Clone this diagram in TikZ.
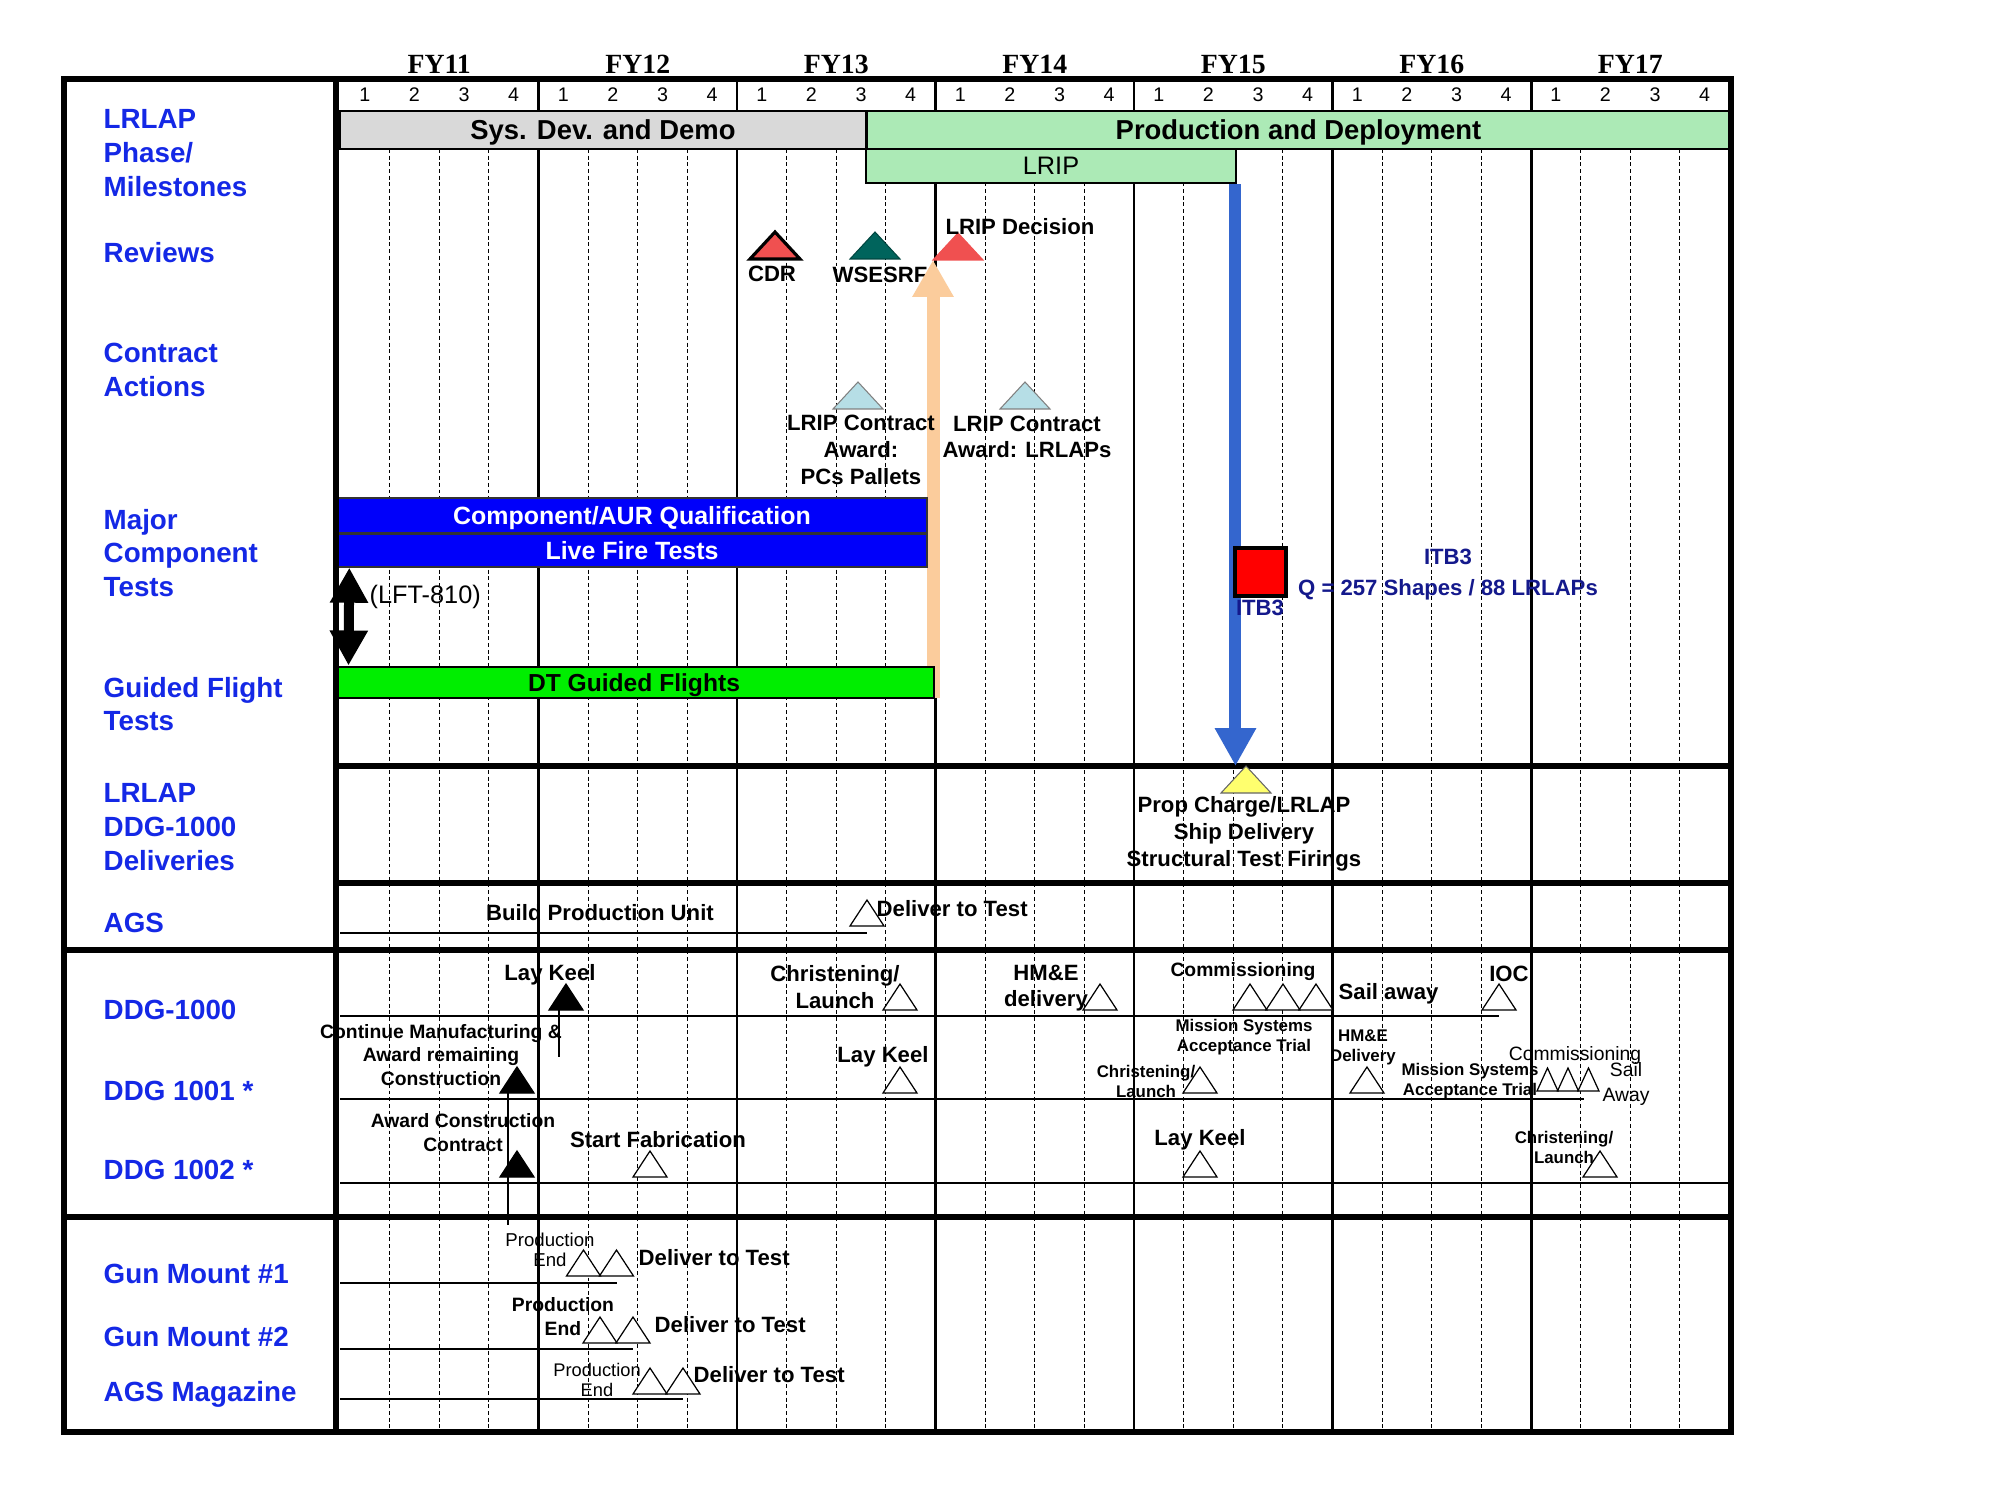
\documentclass[tikz,border=0pt]{standalone}
\usepackage{fontspec}
\setmainfont{Liberation Sans}
\newfontfamily\fyfont{Liberation Serif}
\usepackage{tikz}
\usetikzlibrary{arrows.meta, positioning, calc, fit}

\definecolor{labblue}{RGB}{20,40,230}
\definecolor{itbnavy}{RGB}{20,25,140}
\definecolor{phasegray}{RGB}{217,217,217}
\definecolor{phasegreen}{RGB}{172,234,182}
\definecolor{testblue}{RGB}{0,0,250}
\definecolor{dtgreen}{RGB}{0,238,0}
\definecolor{peach}{RGB}{251,204,156}
\definecolor{lripblue}{RGB}{52,102,206}
\definecolor{revred}{RGB}{240,80,80}
\definecolor{revteal}{RGB}{0,100,92}
\definecolor{cablue}{RGB}{182,222,230}
\definecolor{propyellow}{RGB}{255,255,110}
\definecolor{itbred}{RGB}{255,0,0}

\tikzset{
    rowlabel/.style={anchor=west, align=left, inner sep=0pt, text=labblue, font=\fontsize{7.9}{9.6}\selectfont\bfseries},
    fylabel/.style={inner sep=0pt, font=\fyfont\fontsize{7.9}{9}\selectfont\bfseries},
    qnum/.style={inner sep=0pt, font=\fontsize{5.6}{6}\selectfont},
    phasebar/.style={rectangle, inner sep=0pt, text depth=0pt, draw=black, line width=0.85pt, font=\fontsize{7.8}{9}\selectfont\bfseries},
    testbar/.style={rectangle, inner sep=0pt, text depth=0pt, draw=black!80, line width=0.4pt, fill=testblue, text=white, minimum width=59mm, font=\fontsize{7.1}{8}\selectfont\bfseries},
    dtbarstyle/.style={rectangle, inner sep=0pt, text depth=0pt, draw=black, line width=0.85pt, fill=dtgreen, font=\fontsize{7}{8}\selectfont\bfseries},
    mlabel/.style={align=center, inner sep=0pt, font=\fontsize{6.3}{7.6}\selectfont\bfseries},
    clabel/.style={align=center, inner sep=0pt, font=\fontsize{5.5}{6.8}\selectfont\bfseries},
    slabel/.style={align=center, inner sep=0pt, font=\fontsize{4.8}{5.7}\selectfont\bfseries},
    rlabel/.style={align=center, inner sep=0pt, font=\fontsize{5.5}{7.1}\selectfont},
    plabel/.style={align=center, inner sep=0pt, font=\fontsize{5.3}{5.7}\selectfont},
    yline/.style={line width=0.85pt},
    qline/.style={line width=0.3pt, dash pattern=on 1.1pt off 0.8pt},
    secline/.style={line width=1.7pt},
    rowline/.style={line width=0.85pt},
    thinline/.style={line width=0.35pt},
    frameline/.style={line width=1.8pt},
    hollow/.style={draw=black, line width=0.35pt, fill=white},
    solidstone/.style={draw=black, line width=0.35pt, fill=black},
    peacharrow/.style={draw=peach, line width=1.3mm, -{Triangle[width=3.9mm 0 0, length=3.7mm 0 0]}},
    lriparrow/.style={draw=lripblue, line width=1.2mm, -{Triangle[width=3.9mm 0 0, length=3.8mm 0 0]}},
    dblarrow/.style={draw=black, line width=1mm, {Triangle[width=3.6mm 0 0, length=3.5mm 0 0]}-{Triangle[width=3.6mm 0 0, length=3.5mm 0 0]}},
    mstone/.pic={\path[pic actions] (-17,0) -- (17,0) -- (0,-26) -- cycle; \coordinate (-base) at (0,0); \coordinate (-top) at (0,-26);},
    bigstone/.pic={\path[pic actions] (-25,0) -- (25,0) -- (0,-27) -- cycle; \coordinate (-base) at (0,0); \coordinate (-top) at (0,-27); \coordinate (-bl) at (-25,0);},
    tinystone/.pic={\path[pic actions] (-10.5,0) -- (10.5,0) -- (0,-23) -- cycle; \coordinate (-base) at (0,0);}
}

\begin{document}
\begin{tikzpicture}[x=0.1mm, y=-0.1mm]
    \path[use as bounding box, fill=white] (0,0) rectangle (2000,1500);

    % Grid
    \foreach \yr in {0,...,6}
        \foreach \q in {1,2,3}
            \draw[qline] ({340+(4*\yr+\q)*49.625},149) -- ({340+(4*\yr+\q)*49.625},1432);
    \foreach \yr in {1,...,6}
        \draw[yline] ({340+\yr*198.5},79) -- ({340+\yr*198.5},1432);

    % Years and quarters
    \foreach \yr/\fy in {0/11,1/12,2/13,3/14,4/15,5/16,6/17}{
        \node[fylabel] (fy\fy) at ({340+(\yr+0.5)*198.5},64) {FY\fy};
        \foreach \q in {1,...,4}
            \node[qnum] (q\fy\q) at ({340+(4*\yr+\q-0.5)*49.625},95) {\q};
    }

    % Phases
    \node[phasebar, fill=phasegray, minimum width=52.6mm, minimum height=3.8mm] (sysdev) at (603,130) {Sys. Dev. and Demo};
    \node[phasebar, fill=phasegreen, minimum width=86.5mm, minimum height=3.8mm] (proddep) at (1298.5,130) {Production and Deployment};
    \node[phasebar, fill=phasegreen, font=\fontsize{7.2}{8}\selectfont, minimum width=37mm, minimum height=3.4mm] (lrip) at (1051,166) {LRIP};

    % Rulings
    \draw[rowline] (336,111) -- (1731,111);
    \draw[rowline] (336,149) -- (1731,149);
    \draw[secline] (336,766) -- (1731,766);
    \draw[secline] (336,883) -- (1731,883);
    \draw[secline] (64,950) -- (1731,950);
    \draw[secline] (64,1217) -- (1731,1217);

    % Row labels
    \node[rowlabel] (lblphase) at (103,153) {LRLAP\\Phase/\\Milestones};
    \node[rowlabel] (lblreviews) at (103,253) {Reviews};
    \node[rowlabel] (lblcontract) at (103,370) {Contract\\Actions};
    \node[rowlabel] (lblmajor) at (103,553) {Major\\Component\\Tests};
    \node[rowlabel] (lblguided) at (103,704) {Guided Flight\\Tests};
    \node[rowlabel] (lbldeliv) at (103,827) {LRLAP\\DDG-1000\\Deliveries};
    \node[rowlabel] (lblags) at (103,923) {AGS};
    \node[rowlabel] (lblddga) at (103,1010) {DDG-1000};
    \node[rowlabel] (lblddgb) at (103,1091) {DDG 1001 *};
    \node[rowlabel] (lblddgc) at (103,1170) {DDG 1002 *};
    \node[rowlabel] (lblgma) at (103,1274) {Gun Mount \#1};
    \node[rowlabel] (lblgmb) at (103,1337) {Gun Mount \#2};
    \node[rowlabel] (lblmag) at (103,1394) {AGS Magazine};

    % Reviews
    \pic[draw=black, line width=0.9pt, fill=revred] (cdr) at (775,259) {bigstone};
    \pic[draw=revteal!70!black, line width=0.3pt, fill=revteal] (wsesrf) at (875,259) {bigstone};
    \pic[draw=revred, line width=0.3pt, fill=revred] (lripdec) at (958,260) {bigstone};
    \node[mlabel] (cdrlab) at (772,274) {CDR};
    \node[mlabel] (wsesrflab) at (880,275) {WSESRF};
    \node[mlabel] (lripdeclab) at (1020,227) {LRIP Decision};

    % Contract actions
    \pic[draw=black!50, line width=0.3pt, fill=cablue] (capcs) at (858,409) {bigstone};
    \pic[draw=black!50, line width=0.3pt, fill=cablue] (calrlap) at (1025,409) {bigstone};

    % Peach arrow to LRIP decision
    \coordinate (peachfoot) at (933,698);
    \draw[peacharrow] (peachfoot) -- (peachfoot |- lripdec-bl);

    \node[mlabel] (capcslab) at (861,450) {LRIP Contract\\Award:\\PCs Pallets};
    \node[mlabel] (calrlaplab) at (1027,437) {LRIP Contract\\Award: LRLAPs};

    % Component tests
    \node[testbar, minimum height=3.5mm] (compqual) at (632,515.5) {Component/AUR Qualification};
    \node[testbar, minimum height=3.3mm] (livefire) at (632,550.5) {Live Fire Tests};
    \node[dtbarstyle, minimum width=60mm, minimum height=3.1mm] (dtbar) at (634,682.5) {DT Guided Flights};
    \draw[dblarrow] ([xshift=1.3mm]livefire.south west) -- ([xshift=1.6mm]dtbar.north west);
    \node[anchor=west, inner sep=0pt, font=\fontsize{7.2}{8}\selectfont] (lft) at (369,597) {(LFT-810)};

    % LRLAP deliveries
    \pic[draw=black!60, line width=0.3pt, fill=propyellow] (proptri) at (1246,793) {bigstone};
    \node[mlabel] (proplab) at (1244,834) {Prop Charge/LRLAP\\Ship Delivery\\Structural Test Firings};
    \draw[lriparrow] ([xshift=-0.2mm]lrip.south east) -- ([xshift=-0.2mm]lrip.south east |- proptri-top);

    % ITB3
    \node[draw=black, line width=0.9pt, fill=itbred, inner sep=0pt, minimum width=5.1mm, minimum height=4.8mm] (itbsq) at (1260.5,572) {};
    \node[mlabel, text=itbnavy] (itbsqlab) at (1260,608) {ITB3};
    \node[mlabel, text=itbnavy] (itbtitle) at (1448,557) {ITB3};
    \node[mlabel, text=itbnavy] (itbqty) at (1448,590) {Q = 257 Shapes / 88 LRLAPs};

    % AGS
    \node[mlabel] (bpulab) at (600,913) {Build Production Unit};
    \pic[hollow] (agsdel) at (867,926) {mstone};
    \node[mlabel, anchor=west] (agsdellab) at (876,909) {Deliver to Test};
    \coordinate (agsstart) at (340,933);
    \draw[rowline] (agsstart) -- (agsstart -| agsdel-base);

    % DDG-1000
    \pic[solidstone] (keela) at (566,1010) {mstone};
    \node[mlabel] (keelalab) at (550,975) {Lay Keel};
    \coordinate (keelafoot) at (559,1057);
    \draw[thinline] (keelafoot |- keela-base) -- (keelafoot);
    \pic[hollow] (christa) at (900,1010) {mstone};
    \node[mlabel] (christalab) at (835,987) {Christening/\\Launch};
    \pic[hollow] (hmea) at (1100,1010) {mstone};
    \node[mlabel] (hmealab) at (1046,988) {HM\&E\\delivery};
    \pic[hollow] (commaa) at (1250,1010) {mstone};
    \pic[hollow] (commab) at (1283,1010) {mstone};
    \pic[hollow] (commac) at (1316,1010) {mstone};
    \node[clabel] (commalab) at (1243,972) {Commissioning};
    \node[mlabel, anchor=west] (saila) at (1338,994) {Sail away};
    \pic[hollow] (ioc) at (1499,1010) {mstone};
    \node[mlabel] (ioclab) at (1509,974) {IOC};
    \coordinate (ddgastart) at (340,1016);
    \draw[rowline] (ddgastart) -- (ddgastart -| ioc-base);

    % DDG 1001
    \pic[solidstone] (contb) at (517,1093) {mstone};
    \node[clabel] (contblab) at (441,1055) {Continue Manufacturing \&\\Award remaining\\Construction};
    \coordinate (contbfoot) at (508,1225);
    \draw[thinline] (contbfoot |- contb-base) -- (contbfoot);
    \pic[hollow] (keelb) at (900,1093) {mstone};
    \node[mlabel] (keelblab) at (883,1057) {Lay Keel};
    \node[slabel] (msta) at (1244,1037) {Mission Systems\\Acceptance Trial};
    \pic[hollow] (christb) at (1200,1093) {mstone};
    \node[slabel] (christblab) at (1146,1081) {Christening/\\Launch};
    \pic[hollow] (hmeb) at (1367,1093) {mstone};
    \node[slabel] (hmeblab) at (1363,1047) {HM\&E\\Delivery};
    \node[slabel] (mstb) at (1470,1081) {Mission Systems\\Acceptance Trial};
    \pic[hollow] (commba) at (1547.5,1091) {tinystone};
    \pic[hollow] (commbb) at (1568,1091) {tinystone};
    \pic[hollow] (commbc) at (1588.5,1091) {tinystone};
    \node[rlabel] (commblab) at (1575,1056) {Commissioning};
    \node[rlabel] (sailb) at (1626,1084) {Sail\\Away};
    \coordinate (ddgbstart) at (340,1099);
    \coordinate (ddgbend) at (1584,1099);
    \draw[rowline] (ddgbstart) -- (ddgbend);

    % DDG 1002
    \pic[solidstone] (awardc) at (517,1177) {mstone};
    \node[clabel] (awardclab) at (463,1133) {Award Construction\\Contract};
    \pic[hollow] (fabc) at (650,1177) {mstone};
    \node[mlabel] (fabclab) at (658,1140) {Start Fabrication};
    \pic[hollow] (keelc) at (1200,1177) {mstone};
    \node[mlabel] (keelclab) at (1200,1140) {Lay Keel};
    \pic[hollow] (christc) at (1600,1177) {mstone};
    \node[slabel] (christclab) at (1564,1147) {Christening/\\Launch};
    \coordinate (ddgcstart) at (340,1183);
    \coordinate (ddgcend) at (1731,1183);
    \draw[rowline] (ddgcstart) -- (ddgcend);

    % Gun mounts and magazine
    \pic[hollow] (gmaa) at (583.5,1276) {mstone};
    \pic[hollow] (gmab) at (616.5,1276) {mstone};
    \node[plabel] (gmalab) at (550,1250) {Production\\End};
    \node[mlabel, anchor=west] (gmadel) at (638,1258) {Deliver to Test};
    \coordinate (gmastart) at (340,1283);
    \draw[rowline] (gmastart) -- (gmastart -| gmab-base);

    \pic[hollow] (gmba) at (600,1343) {mstone};
    \pic[hollow] (gmbb) at (633,1343) {mstone};
    \node[clabel] (gmblab) at (563,1317) {Production\\End};
    \node[mlabel, anchor=west] (gmbdel) at (654,1325) {Deliver to Test};
    \coordinate (gmbstart) at (340,1349);
    \draw[rowline] (gmbstart) -- (gmbstart -| gmbb-base);

    \pic[hollow] (maga) at (650,1394) {mstone};
    \pic[hollow] (magb) at (683,1394) {mstone};
    \node[plabel, font=\fontsize{5.2}{5.7}\selectfont] (maglab) at (597,1380) {Production\\End};
    \node[mlabel, anchor=west] (magdel) at (693,1375) {Deliver to Test};
    \coordinate (magstart) at (340,1399);
    \draw[rowline] (magstart) -- (magstart -| magb-base);

    % Frame
    \draw[secline] (336,79) -- (336,1432);
    \draw[frameline] (64,79) rectangle (1731,1432);
\end{tikzpicture}
\end{document}
